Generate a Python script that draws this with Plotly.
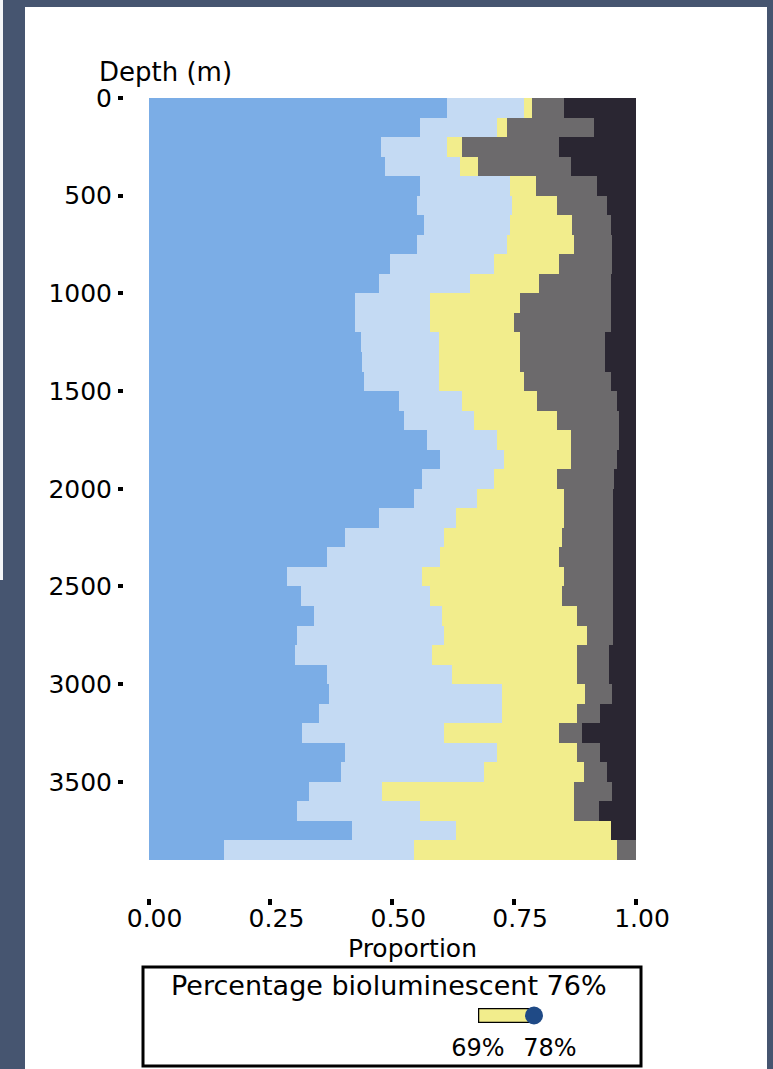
import plotly.graph_objects as go

W, H = 773, 1069

# ---- data ----
depth_m = [0, 100, 200, 300, 400, 500, 600, 700, 800, 900,
           1000, 1100, 1200, 1300, 1400, 1500, 1600, 1700, 1800, 1900,
           2000, 2100, 2200, 2300, 2400, 2500, 2600, 2700, 2800, 2900,
           3000, 3100, 3200, 3300, 3400, 3500, 3600, 3700, 3800]

cat_a = [.612, .557, .475, .485, .557, .550, .564, .550, .495, .471,
         .423, .423, .434, .437, .441, .512, .523, .570, .598, .560,
         .543, .471, .403, .365, .283, .311, .338, .304, .300, .365,
         .369, .348, .314, .403, .393, .328, .304, .417, .153]
cat_b = [.157, .157, .137, .154, .184, .195, .177, .184, .212, .188,
         .154, .154, .160, .157, .153, .130, .143, .144, .130, .147,
         .130, .158, .202, .233, .277, .266, .263, .301, .281, .257,
         .355, .376, .291, .311, .294, .150, .253, .212, .390]
cat_c = [.017, .021, .030, .037, .052, .092, .127, .137, .134, .141,
         .185, .171, .168, .168, .175, .154, .171, .151, .137, .130,
         .178, .222, .243, .243, .291, .271, .277, .294, .297, .256,
         .171, .154, .236, .164, .205, .393, .314, .318, .417]
cat_d = [.065, .177, .199, .189, .126, .103, .079, .079, .109, .147,
         .185, .199, .174, .174, .178, .164, .127, .099, .095, .117,
         .102, .102, .105, .112, .102, .105, .075, .054, .065, .065,
         .055, .048, .048, .048, .048, .079, .052, .000, .040]
cat_e = [.149, .088, .159, .135, .081, .060, .053, .050, .050, .053,
         .053, .053, .064, .064, .053, .040, .036, .036, .040, .046,
         .047, .047, .047, .047, .047, .047, .047, .047, .057, .057,
         .050, .074, .111, .074, .060, .050, .077, .053, .000]

series = [("Category 1", cat_a, "#7badE6"),
          ("Category 2", cat_b, "#c4daf3"),
          ("Category 3", cat_c, "#f2ed8c"),
          ("Category 4", cat_d, "#6c6a6c"),
          ("Category 5", cat_e, "#2a2632")]

x_ticks = [0, 0.25, 0.5, 0.75, 1.0]
y_ticks = [0, 500, 1000, 1500, 2000, 2500, 3000, 3500]
bin_size = 100

legend_title = "Percentage bioluminescent 76%"
legend_low, legend_point, legend_high = 69, 76, 78

# ---- helpers for pixel -> paper ----
def fx(px):
    return px / W

def fy(py):
    return 1 - py / H

FONT = "DejaVu Sans"
BG = "#465570"

fig = go.Figure()
for name, vals, col in series:
    fig.add_trace(go.Bar(
        x=vals, y=depth_m, orientation="h", name=name,
        width=bin_size, offset=0,
        marker=dict(color=col, line=dict(width=0)),
        showlegend=False, xaxis="x", yaxis="y"))

# legend gauge drawn on a small inset axis
fig.add_trace(go.Scatter(
    x=[legend_point], y=[0.5], mode="markers",
    marker=dict(size=18, color="#1f4a86"),
    showlegend=False, xaxis="x3", yaxis="y3", cliponaxis=False))

shapes = [
    # white page panel
    dict(type="rect", xref="paper", yref="paper",
         x0=fx(25), x1=fx(767), y0=fy(1069), y1=fy(7),
         fillcolor="white", line=dict(width=0), layer="below"),
    dict(type="rect", xref="paper", yref="paper",
         x0=fx(0), x1=fx(3), y0=fy(580), y1=fy(0),
         fillcolor="#f4f6f8", line=dict(width=0), layer="below"),
    # legend box
    dict(type="rect", xref="paper", yref="paper",
         x0=fx(143), x1=fx(641), y0=fy(1066), y1=fy(967),
         fillcolor="rgba(0,0,0,0)", line=dict(color="black", width=3)),
    # legend gauge bar
    dict(type="rect", xref="x3", yref="y3",
         x0=legend_low, x1=legend_point, y0=0, y1=1,
         fillcolor="#f2ed8c", line=dict(color="black", width=2.5),
         layer="below"),
]

annotations = [
    dict(text="Depth (m)", x=fx(165), y=fy(72), xref="paper", yref="paper",
         showarrow=False, font=dict(family=FONT, size=26, color="black"),
         xanchor="center", yanchor="middle"),
    dict(text="Proportion", x=fx(412), y=fy(948), xref="paper", yref="paper",
         showarrow=False, font=dict(family=FONT, size=25, color="black"),
         xanchor="center", yanchor="middle"),
    dict(text=legend_title, x=fx(389), y=fy(985), xref="paper", yref="paper",
         showarrow=False, font=dict(family=FONT, size=27, color="black"),
         xanchor="center", yanchor="middle"),
]

fig.update_layout(
    width=W, height=H,
    margin=dict(l=0, r=0, t=0, b=0, pad=0),
    paper_bgcolor=BG, plot_bgcolor="white",
    barmode="stack", bargap=0,
    shapes=shapes, annotations=annotations,
    font=dict(family=FONT, color="black"),
    xaxis=dict(
        domain=[fx(148.6), fx(636)], range=[0, 1],
        anchor="free", position=fy(898),
        tickvals=x_ticks, ticktext=[f"{v:.2f}" for v in x_ticks],
        ticks="outside", ticklen=6, tickwidth=4, tickcolor="black",
        tickfont=dict(family=FONT, size=25, color="black"),
        ticklabelshift=6, ticklabelstandoff=-8,
        showgrid=False, zeroline=False, showline=False,
        automargin=False, fixedrange=True),
    yaxis=dict(
        domain=[fy(860), fy(98)], range=[3900, 0],
        anchor="free", position=fx(123),
        tickvals=y_ticks, ticktext=[str(v) for v in y_ticks],
        ticks="outside", ticklen=5, tickwidth=4, tickcolor="black",
        tickfont=dict(family=FONT, size=25, color="black"),
        ticklabelstandoff=1,
        showgrid=False, zeroline=False, showline=False,
        automargin=False, fixedrange=True),
    xaxis3=dict(
        domain=[fx(478), fx(550)], range=[legend_low, legend_high],
        anchor="y3",
        tickvals=[legend_low, legend_high],
        ticktext=[f"{legend_low}%", f"{legend_high}%"],
        ticks="", tickfont=dict(family=FONT, size=24, color="black"),
        ticklabelstandoff=8,
        showgrid=False, zeroline=False, showline=False,
        automargin=False, fixedrange=True),
    yaxis3=dict(
        domain=[fy(1023), fy(1008)], range=[0, 1], anchor="x3",
        visible=False, fixedrange=True),
)

fig.write_html("out.html")
